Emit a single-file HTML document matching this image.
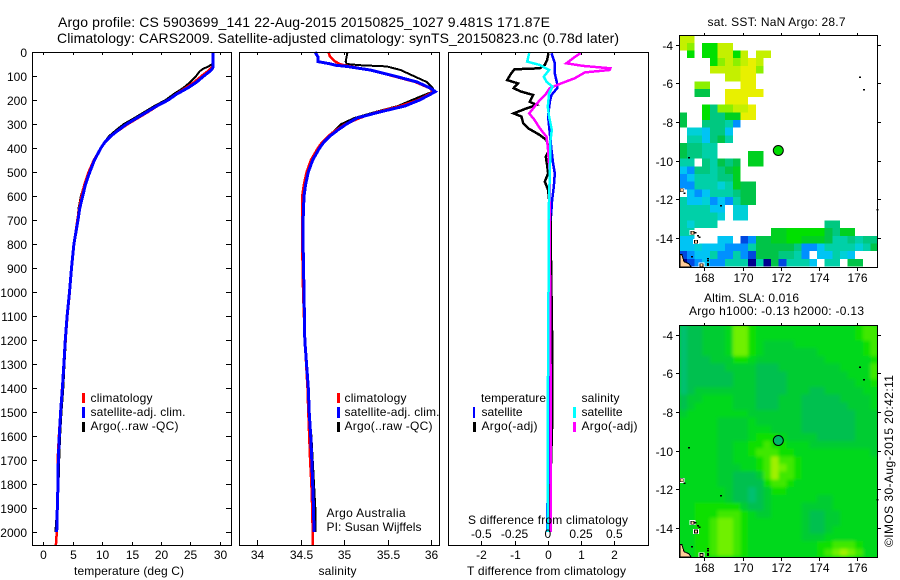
<!DOCTYPE html>
<html lang="en">
<head>
<meta charset="utf-8">
<title>Argo profile</title>
<style>
html,body{margin:0;padding:0;background:#fff;}
svg{display:block;}
text{font-family:"Liberation Sans",sans-serif;font-size:12px;fill:#000;}
.title{font-size:14px;}
</style>
</head>
<body>
<svg id="chart" xmlns="http://www.w3.org/2000/svg" width="900" height="580" viewBox="0 0 900 580">
  <defs>
    <filter id="sla-smooth" filterUnits="userSpaceOnUse" x="660" y="310" width="240" height="260"><feGaussianBlur stdDeviation="1.6"/></filter>
    <clipPath id="sla-clip"><rect x="679" y="325" width="198" height="232"/></clipPath>
  </defs>
  <text class="title" x="58" y="27" textLength="492" lengthAdjust="spacing">Argo profile: CS 5903699_141 22-Aug-2015 20150825_1027 9.481S 171.87E</text>
  <text class="title" x="57" y="43" textLength="562" lengthAdjust="spacing">Climatology: CARS2009. Satellite-adjusted climatology: synTS_20150823.nc (0.78d later)</text>

  <g id="layer-plots"></g>

  <g>
    <rect x="82" y="393" width="3" height="10" fill="#ff0000"/>
    <rect x="82" y="407" width="3" height="11" fill="#0000ff"/>
    <rect x="82" y="422" width="3" height="10" fill="#000"/>
    <text x="90.5" y="402" textLength="62">climatology</text>
    <text x="90.5" y="416" textLength="95">satellite-adj. clim.</text>
    <text x="90.5" y="430" textLength="88">Argo(..raw -QC)</text>
  </g>
  <g>
    <rect x="337" y="393" width="3" height="10" fill="#ff0000"/>
    <rect x="337" y="407" width="3" height="11" fill="#0000ff"/>
    <rect x="337" y="422" width="3" height="10" fill="#000"/>
    <text x="344.5" y="402" textLength="62">climatology</text>
    <text x="344.5" y="416" textLength="95">satellite-adj. clim.</text>
    <text x="344.5" y="430" textLength="88">Argo(..raw -QC)</text>
    <text x="326.5" y="517" textLength="79">Argo Australia</text>
    <text x="326.5" y="531" textLength="95">PI: Susan Wijffels</text>
  </g>
  <g>
    <text x="481" y="402" textLength="65">temperature</text>
    <rect x="473" y="407" width="2" height="11" fill="#0000ff"/>
    <rect x="473" y="422" width="3" height="10" fill="#000"/>
    <text x="481.5" y="416" textLength="41">satellite</text>
    <text x="481.5" y="430" textLength="56">Argo(-adj)</text>
    <text x="581.5" y="402" textLength="38">salinity</text>
    <rect x="573" y="407" width="3" height="11" fill="#00ffff"/>
    <rect x="573" y="422" width="3" height="10" fill="#ff00ff"/>
    <text x="581.5" y="416" textLength="41">satellite</text>
    <text x="581.5" y="430" textLength="56">Argo(-adj)</text>
    <text x="468" y="524" textLength="160">S difference from climatology</text>
  </g>

  <text x="74" y="575" textLength="110">temperature (deg C)</text>
  <text x="318.5" y="575" textLength="38">salinity</text>
  <text x="467" y="575" textLength="159">T difference from climatology</text>

  <text x="707.5" y="26" textLength="138">sat. SST: NaN Argo: 28.7</text>
  <text x="704" y="302" textLength="95">Altim. SLA: 0.016</text>
  <text x="689" y="315" textLength="175">Argo h1000: -0.13 h2000: -0.13</text>
  <text transform="translate(893,547) rotate(-90)" x="0" y="0" textLength="172">©IMOS 30-Aug-2015 20:42:11</text>
</svg>

<script>
// ---------- profile data ----------
const tempDepth = [0,30,50,60,70,80,100,125,150,175,200,225,250,275,300,325,350,375,400,450,500,550,600,650,700,800,900,1000,1100,1200,1300,1400,1500,1600,1700,1800,1900,2000,2054];
const tempArgo = [28.8,28.75,28.75,28.1,27.2,26.6,26.0,25.0,23.8,22.2,20.8,18.9,17.2,15.5,13.7,12.4,11.2,10.4,9.8,8.6,7.7,7.0,6.4,6.0,5.8,5.2,4.8,4.5,4.1,3.85,3.6,3.4,3.1,2.85,2.7,2.6,2.35,2.05,null];
const tempClim = [28.8,28.8,28.8,28.8,28.4,28.0,26.9,25.7,24.2,22.6,21.2,19.4,17.8,16.1,14.4,12.9,11.5,10.5,9.8,8.6,7.7,7.0,6.5,6.1,5.8,5.2,4.8,4.5,4.1,3.8,3.5,3.2,2.9,2.65,2.45,2.5,2.4,2.3,2.15];
const tempSat = [28.9,28.9,28.9,28.9,28.75,28.35,27.3,26.1,24.55,22.7,21.25,19.3,17.6,15.9,14.2,12.8,11.5,10.5,9.8,8.7,7.9,7.2,6.7,6.2,5.9,5.2,4.8,4.45,4.05,3.75,3.5,3.25,2.95,2.72,2.55,2.5,2.38,2.28,null];

const salDepth = [0,20,40,50,55,60,75,100,125,150,165,175,200,225,250,275,300,325,350,375,400,450,500,550,600,700,800,1000,1200,1400,1500,1600,1700,1800,1900,2000,2054];
const salArgo = [35.04,35.03,35.02,35.03,35.18,35.49,35.65,35.8,35.95,36.02,36.03,35.95,35.78,35.62,35.36,35.12,34.97,34.9,34.82,34.76,34.71,34.63,34.58,34.55,34.53,34.53,34.53,34.54,34.55,34.59,34.6,34.625,34.64,34.655,34.67,34.67,null];
const salClim = [34.82,34.84,34.9,34.95,35.0,35.07,35.3,35.56,35.82,35.98,36.03,35.98,35.85,35.65,35.38,35.18,35.02,34.91,34.82,34.75,34.7,34.62,34.57,34.54,34.52,34.52,34.52,34.53,34.55,34.58,34.59,34.6,34.61,34.625,34.635,34.64,34.64];
const salSat = [34.667,34.7,34.7,34.85,34.9,35.03,35.3,35.58,35.84,35.99,36.05,36.0,35.87,35.7,35.41,35.15,35.03,34.93,34.84,34.77,34.72,34.64,34.59,34.56,34.54,34.53,34.53,34.54,34.55,34.59,34.6,34.617,34.63,34.64,34.65,34.655,null];

const dtArgoDepth = [5,33,54,68,72,89,117,131,151,165,179,207,221,235,256,269,297,318,346,367,408,436,471,506,540,575,617,700,900,1100,1300,1500,1600,1700,1800,1900,2000];
const dtArgo = [0.02,-0.02,-0.09,-0.24,-1.0,-1.1,-1.22,-0.9,-1.03,-0.8,-0.44,-0.54,-0.34,-0.64,-1.03,-0.79,-0.74,-0.59,-0.24,-0.04,0.04,-0.06,-0.02,0.01,-0.09,0.01,0.04,0.08,0.1,0.12,0.14,0.14,0.12,0.1,0.08,0.05,0.02];
const dtSatDepth = [5,47,89,131,151,179,207,269,339,408,464,506,561,617,714,922,1339,1800,1900,2000];
const dtSat = [0.11,0.21,0.21,0.28,0.28,0.11,0.06,0.01,0.06,0.11,0.16,0.21,0.18,0.13,0.08,0.08,0.08,0.04,-0.02,-0.01];
const dsSatDepth = [5,40,54,75,103,124,144,172,228,269,325,367,506,700,1000,1500,2000];
const dsSat = [-0.14,-0.155,-0.06,0.01,-0.03,-0.01,0.035,0.01,0,0.01,0.03,0.02,0.015,0.005,0.005,0,0];
const dsArgoDepth = [5,26,47,58,68,75,85,110,131,151,179,207,228,256,283,318,353,394,506,780,1300,1900,2000];
const dsArgo = [0.245,0.19,0.14,0.265,0.47,0.465,0.28,0.2,0.1,0.015,-0.02,-0.07,-0.1,-0.14,-0.1,-0.06,-0.01,0,0.015,0.015,0.02,0.02,0.02];

// ---------- tick data ----------
const depthTicks = [0,100,200,300,400,500,600,700,800,900,1000,1100,1200,1300,1400,1500,1600,1700,1800,1900,2000];
const tempTicks = [0,5,10,15,20,25,30];
const salTicks = [34,34.5,35,35.5,36];
const dtTicks = [-2,-1,0,1,2];
const dsTicks = [-0.5,-0.25,0,0.25,0.5];
const dsTickLabels = ['-0.5','-0.25','0','0.25','0.5'];
const lonTicks = [168,170,172,174,176];
const latTicks = [-4,-6,-8,-10,-12,-14];

// ---------- map data (0.4 degree cells, north to south) ----------
const sstPalette = {a:'#e8f000',b:'#c4f000',c:'#8cf000',d:'#00e000',e:'#00d020',f:'#00c448',g:'#00c880',h:'#00d0a8',i:'#00d0d8',j:'#00c4f4',k:'#0090ff',l:'#0048e0',m:'#000090'};
const sstRows = [
"bb........................",
"bc.ddbb...................",
".d.ddbbdb.bb..............",
"....dcbcbab...............",
"....bbbbaac...............",
"......bbaa................",
"..cc....aa................",
"..ff..aaaaa...............",
"......aaa.................",
"...dgccbba................",
"f..dggeeaa................",
"f..ggghk..................",
".iijggj...................",
".hhjgfh...................",
"fgghh.....................",
"fgghh....ee...............",
"hh.ghfgf.ee...............",
"jkgghgfe..................",
"kjhhhgge..................",
"kkhhhiheff................",
".jkjhhhgff................",
"hjjikjkhff................",
"hhhhjj.ii.................",
"hhhhhi.ii.................",
"hihhh..............gg.....",
"hh..........eedddddfgee...",
"jj...jj.lkffeeddeeefhhghgg",
"jjijjjkkkhfffffgkkjhhhhihf",
"lkjjhkkhklfffgghk.jjhij...",
"mlkjkkhhhmhmflhhhj.hh.ff.."
];
const slaPalette = ['#00c070','#00c050','#00cc30','#00d81a','#10e000','#40e800','#70f000','#a0f000'];
const slaRows = [
"01122236643333333333333455",
"01122236643333333333333455",
"01122236643222233333333345",
"01122236643222222233333345",
"01112224432222222223333334",
"01111122221112222222233335",
"01111112221111222222223335",
"01111112221111222222222334",
"01222222221111222112222233",
"12233332221112221111122223",
"12333332221112221111112223",
"23333333322222221111111222",
"33333222232222221111111222",
"33333222233322221111111222",
"33333222234443222211111222",
"33333223344544333222222222",
"33333223345554433333333332",
"33333223334575543333333333",
"33333222334576543333333333",
"33333221112575543333333333",
"33333221111455433333333333",
"33333321101244333333333333",
"33333321101233333322333333",
"33444444211233332222333333",
"33444555432233332112233333",
"33445665433333332112233333",
"33445665433333332112333333",
"33445665433333332223333333",
"33445665433333333344555433",
"33445665433333333345676533"
];
const coastLon = [176.09,176.31,167.16,166.9,168.82,177.0,167.5,167.62,167.7,168.13,168.13,168.13,168.13,167.3];
const coastLat = [-5.64,-6.3,-9.82,-11.65,-12.3,-12.5,-13.7,-13.85,-13.95,-15.05,-15.15,-15.3,-15.4,-14.95];
const islandLon = [166.82,167.39,167.57,167.85];
const islandLat = [-11.55,-13.74,-14.2,-15.42];
const landLon = [166.73,166.83,166.94,167.2,167.3,167.3,166.73];
const landLat = [-14.88,-14.88,-15.24,-15.35,-15.5,-15.52,-15.52];
const floatLon = 171.87;
const floatLat = -9.481;

// ---------- helpers ----------
const NS = 'http://www.w3.org/2000/svg';
const layer = document.getElementById('layer-plots');
function make(parent, tag, props, text) {
  const el = document.createElementNS(NS, tag);
  for (const k in props) el.setAttribute(k, props[k]);
  if (text !== undefined) el.textContent = text;
  parent.appendChild(el);
  return el;
}
function linear(d0, d1, r0, r1) { return v => r0 + (v - d0) * (r1 - r0) / (d1 - d0); }
const yDepth = linear(0, 2000, 52, 532);

function drawLine(depths, values, xf, color, width, name) {
  let pts = [];
  depths.forEach((d, i) => { if (values[i] !== null) pts.push(xf(values[i]).toFixed(1) + ',' + yDepth(d).toFixed(1)); });
  const p = make(layer, 'polyline', {points: pts.join(' '), fill: 'none', stroke: color, 'stroke-width': width, 'stroke-linejoin': 'miter', 'shape-rendering': 'crispEdges'});
  
  
}
function drawBox(x0, y0, x1, y1, name) {
  const r = make(layer, 'rect', {x: x0 + .5, y: y0 + .5, width: x1 - x0, height: y1 - y0, fill: 'none', stroke: '#000', 'stroke-width': 1.3, 'shape-rendering': 'crispEdges'});
  
  
}
function drawTick(x1, y1, x2, y2) {
  const t = make(layer, 'line', {x1: x1, y1: y1, x2: x2, y2: y2, stroke: '#000', 'stroke-width': 1, 'shape-rendering': 'crispEdges'});
  
  
}
function drawLabel(x, y, str, anchor) {
  const t = make(layer, 'text', {x: x, y: y, 'text-anchor': anchor}, str);
  
  
}

// ---------- panel 1: temperature ----------
const xTemp = linear(0, 30, 43.3, 219.7);
drawLine(tempDepth, tempArgo, xTemp, '#000000', 2, 'temperature-argo-line');
drawLine(tempDepth, tempClim, xTemp, '#ff0000', 2.5, 'temperature-climatology-line');
drawLine(tempDepth, tempSat, xTemp, '#0000ff', 3, 'temperature-satellite-line');
drawBox(32, 52, 231, 545, 'temperature-plot-frame');
depthTicks.forEach(d => {
  const y = Math.round(yDepth(d)) + .5;
  drawTick(32, y, 37, y);
  drawTick(226, y, 231, y);
  drawLabel(27, y + 4.5, String(d), 'end');
});
tempTicks.forEach(v => {
  const x = Math.round(xTemp(v)) + .5;
  drawTick(x, 52, x, 55);
  drawTick(x, 542, x, 545);
  drawLabel(x, 559, String(v), 'middle');
});

// ---------- panel 2: salinity ----------
const xSal = linear(34, 36, 257, 431);
drawLine(salDepth, salArgo, xSal, '#000000', 2, 'salinity-argo-line');
drawLine(salDepth, salClim, xSal, '#ff0000', 2.5, 'salinity-climatology-line');
drawLine(salDepth, salSat, xSal, '#0000ff', 3, 'salinity-satellite-line');
drawBox(239, 52, 439, 545, 'salinity-plot-frame');
salTicks.forEach(v => {
  const x = Math.round(xSal(v)) + .5;
  drawTick(x, 52, x, 55);
  drawTick(x, 540, x, 545);
  drawLabel(x, 559, String(v), 'middle');
});

// ---------- panel 3: differences ----------
const xDT = linear(-2, 2, 481.3, 614.3);
const xDS = linear(-0.5, 0.5, 481.3, 614.3);
drawLine(dtSatDepth, dtSat, xDT, '#0000ff', 2.5, 'temperature-difference-satellite-line');
drawLine(dtArgoDepth, dtArgo, xDT, '#000000', 2.5, 'temperature-difference-argo-line');
drawLine(dsArgoDepth, dsArgo, xDS, '#ff00ff', 2.5, 'salinity-difference-argo-line');
drawLine(dsSatDepth, dsSat, xDS, '#00ffff', 2.5, 'salinity-difference-satellite-line');
drawBox(448, 52, 648, 545, 'difference-plot-frame');
dtTicks.forEach(v => {
  const x = Math.round(xDT(v)) + .5;
  drawTick(x, 52, x, 55);
  drawTick(x, 541, x, 545);
  drawLabel(x, 559, String(v), 'middle');
});
dsTicks.forEach((v, i) => {
  drawLabel(xDS(v), 538, dsTickLabels[i], 'middle');
});

// ---------- maps ----------
function drawMap(rows, palette, yTop, name, markerColor, smooth) {
  const xLon = linear(168, 176, 704.3, 857.3);
  const yLat = linear(-4, -14, yTop + 9.7, yTop + 202.7);
  const lon0 = 166.69, lat0 = -3.5, step = 0.4;
  const clipGroup = make(layer, 'g', {});
  
  
  let cellParent = clipGroup;
  if (smooth) {
    clipGroup.setAttribute('clip-path', 'url(#sla-clip)');
    const base = make(clipGroup, 'rect', {x: 679, y: yTop, width: 198, height: 232, fill: palette[3]});
    
    
    cellParent = make(clipGroup, 'g', {filter: 'url(#sla-smooth)'});
    
    
  }
  rows.forEach((row, r) => {
    for (let c = 0; c < row.length; c++) {
      const color = palette[row[c]];
      if (!color) continue;
      const x0 = xLon(lon0 + c * step), x1 = xLon(lon0 + (c + 1) * step);
      const y0 = yLat(lat0 - r * step), y1 = yLat(lat0 - (r + 1) * step);
      const cell = make(cellParent, 'rect', {x: x0.toFixed(2), y: y0.toFixed(2), width: (x1 - x0).toFixed(2), height: (y1 - y0).toFixed(2), fill: color, 'shape-rendering': 'crispEdges'});
      
      
    }
  });
  const landPts = landLon.map((lon, i) => xLon(lon).toFixed(1) + ',' + yLat(landLat[i]).toFixed(1)).join(' ');
  const land = make(layer, 'polygon', {points: landPts, fill: '#ffcc99', stroke: '#000', 'stroke-width': 1, 'shape-rendering': 'crispEdges'});
  
  
  islandLon.forEach((lon, i) => {
    const halo = make(layer, 'rect', {x: (xLon(lon) - 3).toFixed(1), y: (yLat(islandLat[i]) - 2.5).toFixed(1), width: 6, height: 5, fill: '#fff', 'shape-rendering': 'crispEdges'});
    
    
    const isle = make(layer, 'rect', {x: (xLon(lon) - 1.5).toFixed(1), y: (yLat(islandLat[i]) - 1.5).toFixed(1), width: 3, height: 3, fill: '#ffcc99', stroke: '#000', 'stroke-width': .7, 'shape-rendering': 'crispEdges'});
    
    
  });
  coastLon.forEach((lon, i) => {
    const speck = make(layer, 'rect', {x: xLon(lon).toFixed(1), y: yLat(coastLat[i]).toFixed(1), width: 2, height: 1.5, fill: '#000', 'shape-rendering': 'crispEdges'});
    
    
  });
  const dot = make(layer, 'circle', {cx: xLon(floatLon).toFixed(1), cy: yLat(floatLat).toFixed(1), r: 5, fill: markerColor, stroke: '#000', 'stroke-width': 1});
  
  
  const yBot = yTop + 232;
  drawBox(679, yTop, 877, yBot, name + '-frame');
  lonTicks.forEach(v => {
    const x = Math.round(xLon(v)) + .5;
    drawTick(x, yTop - 2, x, yTop);
    drawTick(x, yBot + 1, x, yBot + 4);
    drawLabel(x, yBot + 15, String(v), 'middle');
  });
  latTicks.forEach(v => {
    const y = Math.round(yLat(v)) + .5;
    drawTick(676, y, 679, y);
    drawTick(878, y, 881, y);
    drawLabel(673, y + 4.5, String(v), 'end');
  });
}
drawMap(sstRows, sstPalette, 35, 'sst-map', '#00dc00', false);
drawMap(slaRows, slaPalette, 325, 'sla-map', '#00b868', true);
</script>
</body>
</html>
